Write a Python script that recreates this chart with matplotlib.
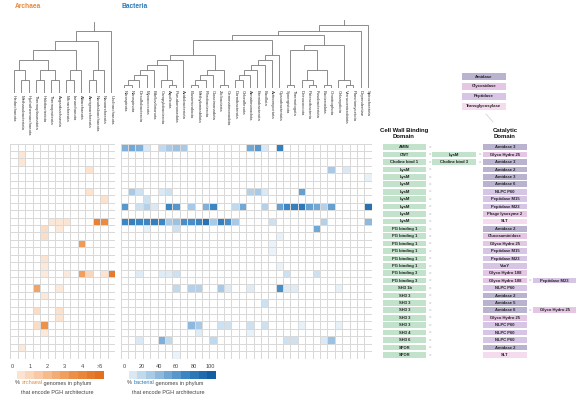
import numpy as np
import matplotlib
matplotlib.use('Agg')
import matplotlib.pyplot as plt
from matplotlib.colors import LinearSegmentedColormap
from matplotlib.patches import Rectangle

plt.rcParams['font.family'] = ['Liberation Sans', 'DejaVu Sans']

# ---------------- data ----------------
archaea_phyla = ["Hadarchaeota", "Methanobacteriota", "Hydrothermarchaeota", "Thermoplasmatota",
                 "Halobacteriota", "Thermoproteota", "Asgardarchaeota", "Micrarchaeota",
                 "Iainarchaeota", "Altiarchaeota", "Aenigmarchaeota", "Nanohaloarchaeota",
                 "Nanoarchaeota", "Undinarchaeota"]

bacteria_phyla = ["Nitrospirota", "Nitrospinota", "Desulfobacterota", "Myxococcota",
                  "Bdellovibrionota", "Campylobacterota", "Aquificota", "Pseudomonadota",
                  "Acidobacteriota", "Elusimicrobiota", "Methylomirabilota", "Fibrobacterota",
                  "Cloacimonadota", "Zixibacteria", "Gemmatimonadota", "Dormibacterota",
                  "Chloroflexota", "Armatimonadota", "Eremiobacterota", "Bacillota",
                  "Actinomycetota", "Cyanobacteriota", "Synergistota", "Thermotogota",
                  "Deinococcota", "Patescibacteria", "Fusobacteriota", "Bacteroidota",
                  "Omnitrophota", "Chlamydiota", "Verrucomicrobiota", "Planctomycetota",
                  "Dependentiae", "Spirochaetota"]

cwb_domain = ["AMIN", "CWT", "Choline bind 1"] + ["LysM"] * 8 + ["PG binding 1"] * 6 + \
             ["PG binding 3"] * 2 + ["SH3 1b"] + ["SH3 3"] * 5 + ["SH3 4", "SH3 6", "SPOR", "SPOR"]
cwb_extra = [""] * 29
cwb_extra[1] = "LysM"
cwb_extra[2] = "Choline bind 3"

catalytic_domain = ["Amidase 3", "Glyco Hydro 25", "Amidase 3", "Amidase 2", "Amidase 3",
                    "Amidase 6", "NLPC P60", "Peptidase M15", "Peptidase M23", "Phage lysozyme 2",
                    "SLT", "Amidase 2", "Glucosaminidase", "Glyco Hydro 25", "Peptidase M15",
                    "Peptidase M23", "VanY", "Glyco Hydro 108", "Glyco Hydro 108", "NLPC P60",
                    "Amidase 2", "Amidase 5", "Amidase 6", "Glyco Hydro 25", "NLPC P60",
                    "NLPC P60", "NLPC P60", "Amidase 2", "SLT"]
catalytic_extra = [""] * 29
catalytic_extra[18] = "Peptidase M23"
catalytic_extra[22] = "Glyco Hydro 25"

catalytic_classes = ["Amidase", "Glycosidase", "Peptidase", "Transglycosylase"]
class_colors = ["#bab3cf", "#e6c6e5", "#d6c5e4", "#f4dcee"]
domain_class = {"Amidase 2": 0, "Amidase 3": 0, "Amidase 5": 0, "Amidase 6": 0,
                "Glyco Hydro 25": 1, "Glyco Hydro 108": 1, "Glucosaminidase": 1,
                "Phage lysozyme 2": 1, "NLPC P60": 2, "Peptidase M15": 2, "Peptidase M23": 2,
                "VanY": 2, "SLT": 3}

archaea_values = [
    [0, 0, 0, 0, 0, 0, 0, 0, 0, 0, 0, 0, 0, 0],
    [0, .4, 0, 0, 0, 0, 0, 0, 0, 0, 0, 0, 0, 0],
    [0, .4, 0, 0, 0, 0, 0, 0, 0, 0, 0, 0, 0, 0],
    [0, 0, 0, 0, 0, 0, 0, 0, 0, 0, .5, 0, 0, 0],
    [0, 0, 0, 0, 0, 0, 0, 0, 0, 0, 0, 0, 0, 0],
    [0, 0, 0, 0, 0, 0, 0, 0, 0, 0, 0, 0, 0, 0],
    [0, 0, 0, 0, 0, 0, 0, 0, 0, 0, .5, 0, 0, 0],
    [0, 0, 0, 0, 0, 0, 0, 0, 0, 0, 0, 0, .6, 0],
    [0, 0, 0, 0, 0, 0, 0, 0, 0, 0, 0, 0, 0, 0],
    [0, 0, 0, 0, 0, 0, 0, 0, 0, 0, 0, 0, 0, 0],
    [0, 0, 0, 0, 0, .4, .4, .5, 0, 0, 0, 4.2, 3.8, 0],
    [0, 0, 0, 0, .8, 0, .3, 0, 0, 0, 0, 0, 0, 0],
    [0, 0, 0, 0, .7, 0, 0, 0, 0, 0, 0, 0, 0, 0],
    [0, 0, 0, 0, 0, 0, 0, 0, 0, 3.2, 0, 0, 0, 0],
    [0, 0, 0, 0, 0, 0, 0, 0, 0, 0, 0, 0, 0, 0],
    [0, 0, 0, 0, .5, 0, 0, 0, 0, 0, 0, 0, 0, 0],
    [0, 0, 0, 0, .3, 0, 0, 0, 0, 0, 0, 0, 0, 0],
    [0, 0, 0, 0, .3, 0, 0, .3, 0, 3.0, 1.0, 0, .5, 4.5],
    [0, 0, 0, 0, 0, 0, 0, 0, 0, 0, 0, 0, 0, 0],
    [0, 0, 0, 2.8, 0, 0, .3, 0, 0, 0, 0, 0, 0, 0],
    [0, 0, 0, 0, .3, 0, 0, 0, 0, 0, 0, 0, 0, 0],
    [0, 0, 0, 0, 0, 0, 0, 0, 0, 0, 0, 0, 0, 0],
    [0, 0, 0, .8, 0, 0, .6, 0, 0, 0, 0, 0, 0, 0],
    [0, 0, 0, 0, 0, 0, .5, 0, 0, 0, 0, 0, 0, 0],
    [0, 0, 0, .8, 3.5, 0, 0, 0, 0, 0, 0, 0, 0, 0],
    [0, 0, 0, 0, .3, 0, 0, 0, 0, 0, 0, 0, 0, 0],
    [0, 0, 0, 0, 0, 0, 0, 0, 0, 0, 0, 0, 0, 0],
    [0, .3, 0, 0, 0, 0, 0, 0, 0, 0, 0, 0, 0, 0],
    [0, 0, 0, 0, 0, 0, 0, 0, 0, 0, 0, 0, 0, 0],
]

bacteria_values = [
    [45, 50, 45, 10, 0, 20, 30, 35, 30, 0, 0, 0, 0, 0, 0, 0, 0, 50, 60, 10, 0, 75, 0, 0, 0, 0, 0, 0, 0, 0, 0, 0, 0, 0],
    [0, 0, 0, 0, 0, 0, 0, 0, 0, 0, 0, 0, 0, 0, 0, 0, 0, 0, 0, 0, 0, 0, 0, 0, 0, 0, 0, 0, 0, 0, 0, 0, 0, 0],
    [0, 0, 0, 0, 0, 0, 0, 0, 0, 0, 0, 0, 0, 0, 0, 0, 0, 0, 0, 0, 0, 0, 0, 0, 0, 0, 0, 0, 0, 0, 0, 0, 0, 0],
    [0, 0, 0, 0, 0, 0, 0, 0, 0, 0, 0, 0, 0, 0, 0, 0, 0, 0, 0, 0, 0, 0, 0, 0, 0, 0, 0, 0, 30, 0, 10, 0, 0, 0],
    [0, 0, 0, 0, 0, 0, 0, 0, 0, 0, 0, 0, 0, 0, 0, 0, 0, 0, 0, 0, 0, 0, 0, 0, 0, 0, 0, 0, 0, 0, 0, 0, 0, 5],
    [0, 0, 0, 0, 0, 0, 0, 0, 0, 0, 0, 0, 0, 0, 0, 0, 0, 0, 0, 0, 0, 0, 0, 0, 0, 0, 0, 0, 0, 0, 0, 0, 0, 0],
    [0, 30, 15, 0, 0, 10, 15, 0, 0, 0, 0, 0, 0, 0, 0, 0, 0, 25, 30, 10, 0, 0, 0, 0, 55, 0, 0, 0, 0, 0, 0, 0, 0, 0],
    [0, 0, 0, 15, 0, 0, 0, 0, 0, 0, 0, 0, 0, 0, 0, 0, 0, 0, 0, 0, 0, 0, 0, 0, 0, 0, 0, 0, 0, 0, 0, 0, 0, 0],
    [60, 0, 15, 25, 10, 0, 70, 60, 0, 30, 0, 45, 70, 0, 0, 20, 50, 0, 0, 25, 0, 55, 70, 75, 80, 55, 50, 25, 55, 0, 0, 0, 0, 85],
    [0, 0, 0, 0, 0, 0, 0, 0, 0, 0, 0, 0, 0, 0, 0, 0, 0, 0, 0, 0, 0, 0, 0, 0, 0, 0, 0, 0, 0, 0, 0, 0, 0, 0],
    [70, 75, 70, 70, 75, 70, 30, 35, 65, 65, 70, 85, 30, 75, 65, 30, 0, 0, 0, 0, 15, 0, 0, 0, 0, 0, 0, 25, 0, 0, 0, 0, 0, 40],
    [0, 0, 0, 5, 0, 0, 0, 15, 0, 0, 0, 0, 0, 0, 0, 0, 0, 0, 0, 0, 0, 0, 0, 0, 0, 0, 50, 0, 0, 0, 0, 0, 0, 0],
    [0, 0, 0, 0, 0, 0, 0, 0, 0, 0, 0, 0, 0, 0, 0, 0, 0, 0, 0, 0, 0, 5, 0, 0, 0, 0, 0, 0, 0, 0, 0, 0, 0, 0],
    [0, 0, 0, 0, 0, 0, 0, 0, 0, 0, 0, 0, 0, 0, 0, 0, 0, 0, 0, 0, 4, 0, 0, 0, 0, 0, 0, 0, 0, 0, 0, 0, 0, 0],
    [0, 0, 0, 0, 0, 0, 0, 0, 0, 0, 0, 0, 0, 0, 0, 0, 0, 0, 0, 0, 4, 0, 0, 0, 0, 0, 0, 0, 0, 0, 0, 0, 0, 0],
    [0, 0, 0, 0, 0, 0, 0, 0, 0, 0, 0, 0, 0, 0, 0, 0, 0, 0, 0, 0, 0, 0, 0, 0, 0, 0, 0, 0, 0, 0, 0, 0, 0, 0],
    [0, 0, 0, 0, 0, 0, 0, 0, 0, 0, 0, 0, 0, 0, 0, 0, 0, 0, 0, 0, 0, 4, 0, 0, 0, 0, 0, 0, 0, 0, 0, 0, 0, 0],
    [0, 0, 8, 0, 0, 8, 8, 15, 0, 0, 0, 0, 0, 0, 0, 0, 0, 0, 0, 0, 0, 0, 15, 0, 0, 0, 15, 0, 0, 0, 0, 0, 0, 0],
    [0, 0, 0, 0, 0, 0, 0, 0, 0, 0, 0, 0, 0, 0, 0, 0, 0, 0, 0, 0, 0, 0, 0, 0, 0, 0, 0, 0, 0, 0, 0, 0, 0, 0],
    [0, 0, 0, 0, 0, 0, 0, 20, 0, 25, 25, 0, 0, 30, 8, 0, 0, 8, 0, 0, 0, 65, 8, 8, 0, 0, 0, 0, 0, 5, 0, 0, 0, 0],
    [0, 0, 0, 0, 0, 0, 0, 0, 0, 0, 0, 0, 0, 0, 0, 0, 0, 0, 0, 0, 0, 0, 0, 0, 0, 0, 0, 0, 0, 0, 0, 0, 0, 0],
    [0, 0, 0, 0, 0, 0, 0, 0, 0, 0, 0, 0, 0, 0, 0, 0, 0, 0, 0, 15, 0, 0, 0, 0, 0, 0, 0, 0, 0, 0, 0, 0, 0, 0],
    [0, 0, 0, 0, 0, 0, 0, 0, 0, 0, 0, 0, 0, 0, 0, 0, 0, 0, 0, 0, 0, 0, 0, 0, 0, 0, 0, 0, 0, 0, 0, 0, 0, 0],
    [0, 0, 0, 0, 0, 0, 0, 0, 0, 0, 0, 0, 0, 0, 0, 0, 0, 0, 0, 0, 0, 0, 0, 0, 0, 0, 0, 0, 0, 0, 0, 0, 0, 0],
    [0, 0, 0, 0, 0, 0, 0, 0, 0, 40, 30, 0, 0, 15, 15, 0, 0, 15, 0, 15, 0, 0, 0, 0, 5, 0, 0, 0, 0, 5, 0, 0, 0, 0],
    [0, 0, 0, 0, 0, 0, 0, 0, 0, 0, 8, 0, 0, 0, 0, 0, 0, 5, 0, 0, 0, 0, 0, 0, 0, 0, 0, 0, 0, 0, 0, 0, 0, 0],
    [0, 0, 10, 0, 0, 45, 20, 0, 0, 0, 0, 0, 20, 0, 0, 0, 0, 0, 0, 0, 0, 0, 15, 15, 0, 0, 0, 10, 35, 0, 0, 0, 0, 0],
    [0, 0, 0, 0, 0, 0, 0, 0, 0, 0, 0, 0, 0, 0, 0, 0, 0, 0, 0, 0, 0, 0, 0, 0, 0, 0, 0, 0, 0, 0, 0, 0, 0, 0],
    [0, 0, 0, 0, 0, 0, 0, 4, 0, 0, 0, 0, 0, 0, 0, 0, 0, 0, 0, 0, 0, 0, 0, 0, 0, 0, 0, 0, 0, 0, 0, 0, 0, 0],
]

# dendrogram topologies: (left, right, merge height in px above leaves)
archaea_tree = ((((0, (1, 2, 13), 23), ((3, 4, 13), (5, 6, 13), 23), 33),
                 ((7, 8, 13), 9, 23), 43),
                ((10, 11, 13), 12, 23), 52)
archaea_tree = (archaea_tree, 13, 62)
archaea_stub = 71

_g1 = ((((((0, 1, 3), 2, 8), 3, 13), 4, 18), (5, (6, 7, 3), 8), 23), 8, 28)
_g2 = ((((9, 10, 3), 11, 8), 12, 13), (13, 14, 3), 18)
_g3 = ((((((15, 16, 8), 17, 13), 18, 18), 19, 23), 20, 28), 21, 33)
_g4 = ((22, 23, 3), ((24, (25, 26, 3), 8), (27, 28, 3), 18), 38)
_g5 = (29, (30, 31, 3), 8)
bacteria_tree = ((((((_g1, _g2, 33), _g3, 48), (_g4, _g5, 43), 53), 32, 57), 33, 63))
bacteria_stub = 68

archaea_ticks = ["0", "1", "2", "3", "4", ">5"]
bacteria_ticks = ["0", "20", "40", "60", "80", "100"]

# ---------------- layout helpers ----------------
W, H = 579, 398
fig = plt.figure(figsize=(W / 100, H / 100), dpi=100)


def px_axes(x, y, w, h):
    return fig.add_axes([x / W, 1 - (y + h) / H, w / W, h / H])


arch_cmap = LinearSegmentedColormap.from_list(
    "arch", [(0, "#ffffff"), (0.05, "#fdeadc"), (0.3, "#f8c9a4"), (0.7, "#ee9148"), (1, "#e3701f")])
bact_cmap = LinearSegmentedColormap.from_list(
    "bact", [(0, "#ffffff"), (0.05, "#e6f0f8"), (0.3, "#a9cae6"), (0.7, "#3d86c4"), (1, "#135da2")])

nrows = len(cwb_domain)
hm_top, hm_h = 143.5, 215.0
grid_col = "#d9d9d9"
tree_col = "#7a7a7a"


def heat(ax, vals, cmap, vmax):
    arr = np.array(vals, dtype=float)
    ax.pcolormesh(arr, cmap=cmap, vmin=0, vmax=vmax, edgecolors=grid_col, linewidth=0.45)
    ax.set_xlim(0, arr.shape[1])
    ax.set_ylim(arr.shape[0], 0)
    ax.set_xticks([]); ax.set_yticks([])
    for s in ax.spines.values():
        s.set_visible(False)


ax_a = px_axes(10, hm_top, 105, hm_h)
heat(ax_a, archaea_values, arch_cmap, 5)
ax_b = px_axes(120.7, hm_top, 251, hm_h)
heat(ax_b, bacteria_values, bact_cmap, 100)


def draw_tree(ax, node):
    if isinstance(node, int):
        return node + 0.5, 0.0
    l, r, h = node
    xl, hl = draw_tree(ax, l)
    xr, hr = draw_tree(ax, r)
    ax.plot([xl, xl, xr, xr], [hl, h, h, hr], color=tree_col, lw=0.6,
            solid_capstyle='butt', solid_joinstyle='miter')
    return (xl + xr) / 2, h


def tree_axes(x, w, base, top, tree, stub, n, labels):
    ax = px_axes(x, top, w, base - top)
    ax.set_xlim(0, n)
    ax.set_ylim(0, base - top)
    ax.axis('off')
    xc, hc = draw_tree(ax, tree)
    ax.plot([xc, xc], [hc, stub], color=tree_col, lw=0.6)
    for j, lab in enumerate(labels):
        ax.text(j + 0.5, -2, lab, rotation=-90, ha='center', va='top', fontsize=3.1,
                color='#333333', clip_on=False)
    return ax


tree_axes(10, 105, 93, 18, archaea_tree, archaea_stub, len(archaea_phyla), archaea_phyla)
tree_axes(120.7, 251, 88, 18, bacteria_tree, bacteria_stub, len(bacteria_phyla), bacteria_phyla)

# ---------------- right panel ----------------
axr = px_axes(375, hm_top, 204, hm_h)
axr.set_xlim(375, 579)
axr.set_ylim(nrows, 0)
axr.axis('off')
green = "#c3e2cc"


def box(x0, x1, i, text, color):
    axr.add_patch(Rectangle((x0, i + 0.12), x1 - x0, 0.76, fc=color, ec='none'))
    axr.text((x0 + x1) / 2, i + 0.52, text, ha='center', va='center', fontsize=3.0,
             fontweight='bold', color='#222222')


def eq(x, i):
    axr.text(x, i + 0.52, "=", ha='center', va='center', fontsize=3.0, color='#888888')


for i in range(nrows):
    box(383, 426, i, cwb_domain[i], green)
    eq(429.5, i)
    if cwb_extra[i]:
        box(432, 476, i, cwb_extra[i], green)
        eq(479.5, i)
    box(483, 527, i, catalytic_domain[i], class_colors[domain_class[catalytic_domain[i]]])
    if catalytic_extra[i]:
        eq(530, i)
        box(533, 576, i, catalytic_extra[i], class_colors[domain_class[catalytic_extra[i]]])

# ---------------- overlay (titles, legends) ----------------
ov = fig.add_axes([0, 0, 1, 1], zorder=5)
ov.set_xlim(0, W)
ov.set_ylim(H, 0)
ov.axis('off')
ov.patch.set_alpha(0)

ov.text(15, 7, "Archaea", fontsize=4.8, fontweight='bold', color='#e8893a', va='center')
ov.text(122, 7, "Bacteria", fontsize=4.8, fontweight='bold', color='#2a7ab8', va='center')

ov.text(404, 133.5, "Cell Wall Binding\nDomain", fontsize=4.3, fontweight='bold',
        ha='center', va='center', linespacing=1.1, color='#111111')
ov.text(505, 133.5, "Catalytic\nDomain", fontsize=4.3, fontweight='bold',
        ha='center', va='center', linespacing=1.1, color='#111111')

for k, (name, col) in enumerate(zip(catalytic_classes, class_colors)):
    yc = 76.5 + 10 * k
    ov.add_patch(Rectangle((462, yc - 3.6), 44, 7.2, fc=col, ec='none'))
    ov.text(484, yc, name, ha='center', va='center', fontsize=3.1, fontweight='bold', color='#222222')
ov.plot([486, 493], [114, 122], color='#cccccc', lw=0.5)


def colorbar(x, y, w, h, cmap, vmax, ticks, nseg):
    ax = px_axes(x, y, w, h)
    vals = np.linspace(0, vmax, nseg)
    step = vals[1] - vals[0]
    ax.imshow(vals[None, :], cmap=cmap, vmin=0, vmax=vmax, aspect='auto',
              extent=[-step / 2, vmax + step / 2, 0, 1], interpolation='nearest')
    ax.set_xlim(-step / 2, vmax + step / 2)
    ax.set_yticks([])
    tick_pos = np.linspace(0, vmax, len(ticks))
    ax.set_xticks(tick_pos)
    ax.set_xticklabels(ticks, fontsize=4, color='#444444')
    ax.xaxis.tick_top()
    ax.tick_params(axis='x', length=0, pad=1.5)
    for s in ax.spines.values():
        s.set_visible(False)
    return ax


colorbar(8, 371, 96, 8, arch_cmap, 5, archaea_ticks, 11)
colorbar(120, 371, 95, 8, bact_cmap, 100, bacteria_ticks, 11)


def rainbow(x, y, parts):
    t = ov.text(x, y, parts[0][0], color=parts[0][1], fontsize=4, ha='left', va='center')
    for s, c in parts[1:]:
        t = ov.annotate(s, xy=(1, 0.5), xycoords=t, color=c, fontsize=4, ha='left', va='center')


rainbow(15, 383, [("% ", '#444444'), ("archaeal", '#e8893a'), (" genomes in phylum", '#444444')])
ov.text(57, 392, "that encode PGH architecture", fontsize=4, ha='center', va='center', color='#444444')
rainbow(127, 383, [("% ", '#444444'), ("bacterial", '#2a7ab8'), (" genomes in phylum", '#444444')])
ov.text(168, 392, "that encode PGH architecture", fontsize=4, ha='center', va='center', color='#444444')

fig.savefig("out.png", dpi=100)
